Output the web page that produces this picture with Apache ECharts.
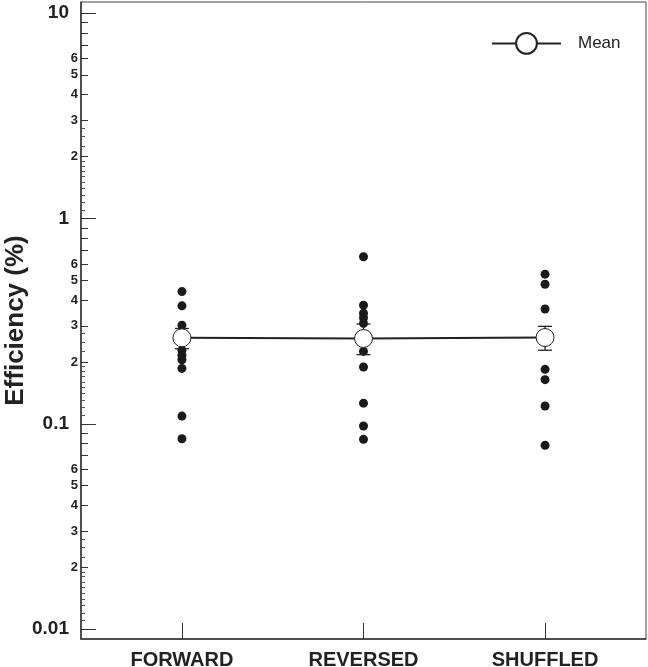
<!DOCTYPE html>
<html><head><meta charset="utf-8">
<script src="https://cdn.jsdelivr.net/npm/echarts@6/dist/echarts.min.js"></script>
<style>html,body{margin:0;padding:0;background:#fff}#c{width:648px;height:667px}</style>
</head><body><div id="c"></div>
<script>
const categories = ['FORWARD', 'REVERSED', 'SHUFFLED'];
const forwardValues = [0.44, 0.375, 0.302, 0.228, 0.215, 0.205, 0.186, 0.109, 0.0845];
const reversedValues = [0.65, 0.378, 0.345, 0.328, 0.308, 0.225, 0.189, 0.126, 0.0975, 0.084];
const shuffledValues = [0.535, 0.478, 0.362, 0.184, 0.164, 0.122, 0.0785];
const meanValues = [0.262, 0.260, 0.263];
const errLow = [0.232, 0.217, 0.228];
const errHigh = [0.291, 0.306, 0.298];

const majorTickValues = [0.01, 0.1, 1, 10];
const majorTickLabels = ['0.01', '0.1', '1', '10'];
const minorTickValues = [0.02, 0.03, 0.04, 0.05, 0.06, 0.07, 0.08, 0.09,
                         0.2, 0.3, 0.4, 0.5, 0.6, 0.7, 0.8, 0.9,
                         2, 3, 4, 5, 6, 7, 8, 9];
const minorLabelValues = [0.02, 0.03, 0.04, 0.05, 0.06, 0.2, 0.3, 0.4, 0.5, 0.6, 2, 3, 4, 5, 6];
const minorTickLabels = ['2', '3', '4', '5', '6', '2', '3', '4', '5', '6', '2', '3', '4', '5', '6'];
const tinyTickValues = [0.011, 0.012, 0.013, 0.014, 0.015, 0.016, 0.017, 0.018, 0.019, 0.0225, 0.025, 0.0275,
                        0.11, 0.12, 0.13, 0.14, 0.15, 0.16, 0.17, 0.18, 0.19, 0.225, 0.25, 0.275,
                        1.1, 1.2, 1.3, 1.4, 1.5, 1.6, 1.7, 1.8, 1.9, 2.25, 2.5, 2.75];
const yMinValue = 0.008954;
const yMaxValue = 11.31;
const xMin = 0.444, xMax = 3.556;

const L = v => Math.log10(v);
const FONT = "'Liberation Sans', Arial, Helvetica, sans-serif";
const INK = '#222';
const yMin = L(yMinValue), yMax = L(yMaxValue);

function labelFor(values, labels) {
  return function (v) {
    let best = 0, bd = Infinity;
    values.forEach((x, i) => { const d = Math.abs(L(x) - v); if (d < bd) { bd = d; best = i; } });
    return bd < 1e-6 ? labels[best] : '';
  };
}

function pts(vals, xi) { return vals.map(v => [xi, L(v)]); }

const baseY = {
  type: 'value', position: 'left', min: yMin, max: yMax, offset: 0,
  splitLine: { show: false }, axisLine: { show: false, onZero: false }
};

const chart = echarts.init(document.getElementById('c'), null, { renderer: 'canvas' });
chart.setOption({
  animation: false,
  backgroundColor: '#fff',
  grid: { left: 81, right: 2, top: 2, bottom: 28, containLabel: false, outerBoundsMode: 'none',
          show: true, borderColor: '#444', borderWidth: 1, backgroundColor: 'transparent' },
  legend: {
    data: ['Mean'], left: 486, top: 27, itemWidth: 69, itemHeight: 26,
    textStyle: { fontFamily: FONT, fontSize: 17, color: INK, padding: [0, 0, 0, 12] },
    selectedMode: false
  },
  xAxis: {
    type: 'value', min: xMin, max: xMax,
    splitLine: { show: false },
    axisLine: { show: true, onZero: false, lineStyle: { color: '#333', width: 1.5 } },
    axisTick: { show: true, inside: true, length: 16, customValues: [1, 2, 3], lineStyle: { color: '#333', width: 1 } },
    axisLabel: {
      customValues: [1, 2, 3], margin: 11,
      formatter: v => categories[Math.round(v) - 1] || '',
      fontFamily: FONT, fontSize: 20, fontWeight: 'bold', color: INK
    }
  },
  yAxis: [
    Object.assign({}, baseY, {
      axisLine: { show: true, onZero: false, lineStyle: { color: '#333', width: 1.5 } },
      axisTick: { show: true, inside: true, length: 15, customValues: majorTickValues.map(L), lineStyle: { color: '#333', width: 1 } },
      axisLabel: { customValues: majorTickValues.map(L), formatter: labelFor(majorTickValues, majorTickLabels), margin: 12,
        fontFamily: FONT, fontSize: 19, fontWeight: 'bold', color: INK },
      name: 'Efficiency (%)', nameLocation: 'middle', nameGap: 52, nameMoveOverlap: false,
      nameTextStyle: { fontFamily: FONT, fontSize: 26, fontWeight: 'bold', color: INK }
    }),
    Object.assign({}, baseY, {
      axisTick: { show: true, inside: true, length: 7, customValues: minorTickValues.map(L), lineStyle: { color: '#333', width: 1 } },
      axisLabel: { customValues: minorLabelValues.map(L), formatter: labelFor(minorLabelValues, minorTickLabels), margin: 3,
        fontFamily: FONT, fontSize: 13, fontWeight: 'bold', color: INK }
    }),
    Object.assign({}, baseY, {
      axisTick: { show: true, inside: true, length: 4, customValues: tinyTickValues.map(L), lineStyle: { color: '#555', width: 1 } },
      axisLabel: { show: false }
    })
  ],
  series: [
    { name: 'FORWARD', type: 'scatter', data: pts(forwardValues, 1), symbolSize: 9, itemStyle: { color: '#1a1a1a', opacity: 1 }, z: 2 },
    { name: 'REVERSED', type: 'scatter', data: pts(reversedValues, 2), symbolSize: 9, itemStyle: { color: '#1a1a1a', opacity: 1 }, z: 2 },
    { name: 'SHUFFLED', type: 'scatter', data: pts(shuffledValues, 3), symbolSize: 9, itemStyle: { color: '#1a1a1a', opacity: 1 }, z: 2 },
    {
      name: 'Error', type: 'custom', z: 3,
      data: categories.map((c, i) => [i + 1, L(errLow[i]), L(errHigh[i])]),
      encode: { x: 0, y: [1, 2] },
      renderItem: function (params, api) {
        const x = api.value(0);
        const pLo = api.coord([x, api.value(1)]);
        const pHi = api.coord([x, api.value(2)]);
        const w = 7;
        const st = { stroke: INK, lineWidth: 1.3 };
        return { type: 'group', children: [
          { type: 'line', shape: { x1: pLo[0], y1: pLo[1], x2: pHi[0], y2: pHi[1] }, style: st },
          { type: 'line', shape: { x1: pLo[0] - w, y1: pLo[1], x2: pLo[0] + w, y2: pLo[1] }, style: st },
          { type: 'line', shape: { x1: pHi[0] - w, y1: pHi[1], x2: pHi[0] + w, y2: pHi[1] }, style: st }
        ] };
      }
    },
    {
      name: 'Mean', type: 'line', z: 5,
      data: meanValues.map((v, i) => [i + 1, L(v)]),
      symbol: 'circle', symbolSize: 18, showSymbol: true,
      lineStyle: { color: INK, width: 2 },
      itemStyle: { color: '#fff', borderColor: INK, borderWidth: 1 }
    }
  ]
});
</script></body></html>
